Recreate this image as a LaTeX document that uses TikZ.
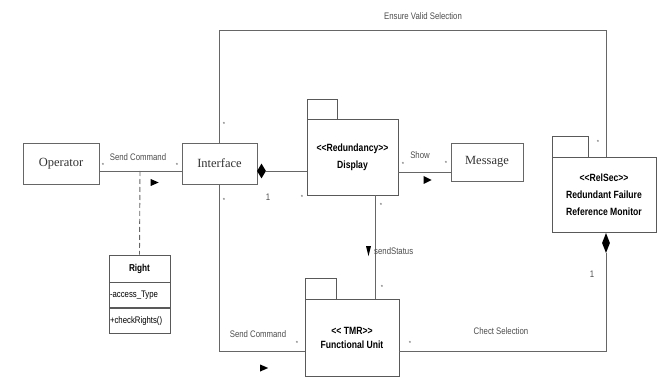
\documentclass[tikz,border=0pt]{standalone}
\usepackage{fontspec}
\setmainfont{Liberation Serif}
\setsansfont{Liberation Sans}
\newfontfamily\narrowsans{Liberation Sans}[FakeStretch=0.82]
\usetikzlibrary{shapes.geometric}
\tikzset{
  ln/.style={draw=black!60, line width=0.9pt},
  serifbox/.style={draw=black!60, line width=0.9pt, inner sep=0pt, font=\fontsize{12.5}{14}\selectfont\rmfamily, text=black!80},
  pkgbox/.style={draw=black!65, line width=0.9pt, inner sep=0pt, align=center, font=\fontsize{10.5}{17}\selectfont\narrowsans\bfseries},
  pkgtab/.style={draw=black!65, line width=0.9pt, inner sep=0pt},
  lbl/.style={font=\fontsize{9.5}{10}\selectfont\narrowsans, text=black!70, inner sep=0pt},
  mult/.style={font=\fontsize{6}{7}\selectfont\sffamily, text=black!70, inner sep=0pt},
  tri/.style={isosceles triangle, isosceles triangle stretches, fill=black, inner sep=0pt, minimum height=8pt},
  dia/.style={diamond, fill=black, inner sep=0pt},
  cls/.style={draw=black!65, line width=0.9pt, inner sep=0pt, minimum width=61pt},
}
\begin{document}
\begin{tikzpicture}[x=1pt,y=-1pt]
\useasboundingbox (0,0) rectangle (657,377);
% main boxes
\node[serifbox, minimum width=76pt, minimum height=41pt] (op) at (61,163.5) {Operator};
\node[serifbox, minimum width=75pt, minimum height=41pt] (intf) at (219.5,163.5) {Interface};
\node[serifbox, minimum width=72pt, minimum height=38pt] (msg) at (487,162) {Message};
% Display package
\node[pkgbox, minimum width=91pt, minimum height=76pt] (disp) at (352.5,157) {<{}<Redundancy>{}>\\Display};
\node[pkgtab, minimum width=30pt, minimum height=20pt] (disptab) at (322,109) {};
% RelSec package
\node[pkgbox, minimum width=104pt, minimum height=75pt] (rel) at (604,194.5) {<{}<RelSec>{}>\\Redundant Failure\\Reference Monitor};
\node[pkgtab, minimum width=36pt, minimum height=21pt] (reltab) at (570,146.5) {};
% Functional Unit package
\node[pkgbox, minimum width=94pt, minimum height=77pt, font=\fontsize{10.5}{14}\selectfont\narrowsans\bfseries] (fu) at (352,337.5) {<{}< TMR>{}>\\Functional Unit};
\node[pkgtab, minimum width=31pt, minimum height=21pt] (futab) at (320.5,288.5) {};
% Right class
\node[cls, minimum height=27pt, font=\fontsize{10}{11}\selectfont\narrowsans\bfseries] (right) at (139.5,268.5) {Right};
\node[cls, minimum height=25pt, anchor=north, font=\fontsize{9.5}{11}\selectfont\narrowsans, text width=59pt, align=left] (rattr) at (right.south) {-access\_Type};
\node[cls, minimum height=25pt, anchor=north, font=\fontsize{9.5}{11}\selectfont\narrowsans, text width=59pt, align=left] (rop) at (rattr.south) {+checkRights()};
% coordinates
\coordinate (ty) at (0,30);
\coordinate (cx) at (375,0);
\coordinate (dx) at (140,171);
% diamonds
\node[dia, minimum width=9pt, minimum height=15pt] (d1) at (261.5,171) {};
\node[dia, minimum width=8pt, minimum height=20pt] (d2) at (606,243) {};
% connectors
\draw[ln] ([yshift=-7.5pt]op.east) -- ([yshift=-7.5pt]intf.west);
\draw[ln, dashed, dash pattern=on 5pt off 3pt] (dx) -- (right.north);
\draw[ln] (d1.east) -- (disp.west |- d1);
\draw[ln] ([yshift=-15pt]disp.east) -- ([yshift=-10pt]msg.west);
\draw[ln] (disp.south -| cx) -- (fu.north -| cx);
\draw[ln] (intf.south) |- ([yshift=-13.5pt]fu.west);
\draw[ln] ([yshift=-13.5pt]fu.east) -| (d2.south);
\draw[ln] (intf.north) |- (ty -| d2) -- (d2 |- rel.north);
% direction triangles
\node[tri, minimum width=7pt] (t1) at (153,182.5) {};
\node[tri, minimum width=8pt] (t2) at (426,180) {};
\node[tri, minimum width=7pt] (t3) at (262.5,368) {};
\node[tri, shape border rotate=-90, minimum height=10pt, minimum width=5pt] (t4) at (368.5,248) {};
% labels
\node[lbl] (l1) at (138,157) {Send Command};
\node[lbl] (l2) at (423,16) {Ensure Valid Selection};
\node[lbl] (l3) at (420,155) {Show};
\node[lbl, anchor=west] (l4) at (374,251) {sendStatus};
\node[lbl] (l5) at (258,334) {Send Command};
\node[lbl] (l6) at (501,331) {Chect Selection};
\node[lbl] (n1a) at (268,197) {1};
\node[lbl] (n1b) at (592,274) {1};
% multiplicities
\node[mult] (m1) at (103,165) {*};
\node[mult] (m2) at (177,165) {*};
\node[mult] (m3) at (224,124) {*};
\node[mult] (m4) at (224,200) {*};
\node[mult] (m5) at (302,197) {*};
\node[mult] (m6) at (403,164) {*};
\node[mult] (m7) at (446,163) {*};
\node[mult] (m8) at (381,205) {*};
\node[mult] (m9) at (382,287) {*};
\node[mult] (m10) at (297,343) {*};
\node[mult] (m11) at (410,343) {*};
\node[mult] (m12) at (598,142) {*};
\end{tikzpicture}
\end{document}
